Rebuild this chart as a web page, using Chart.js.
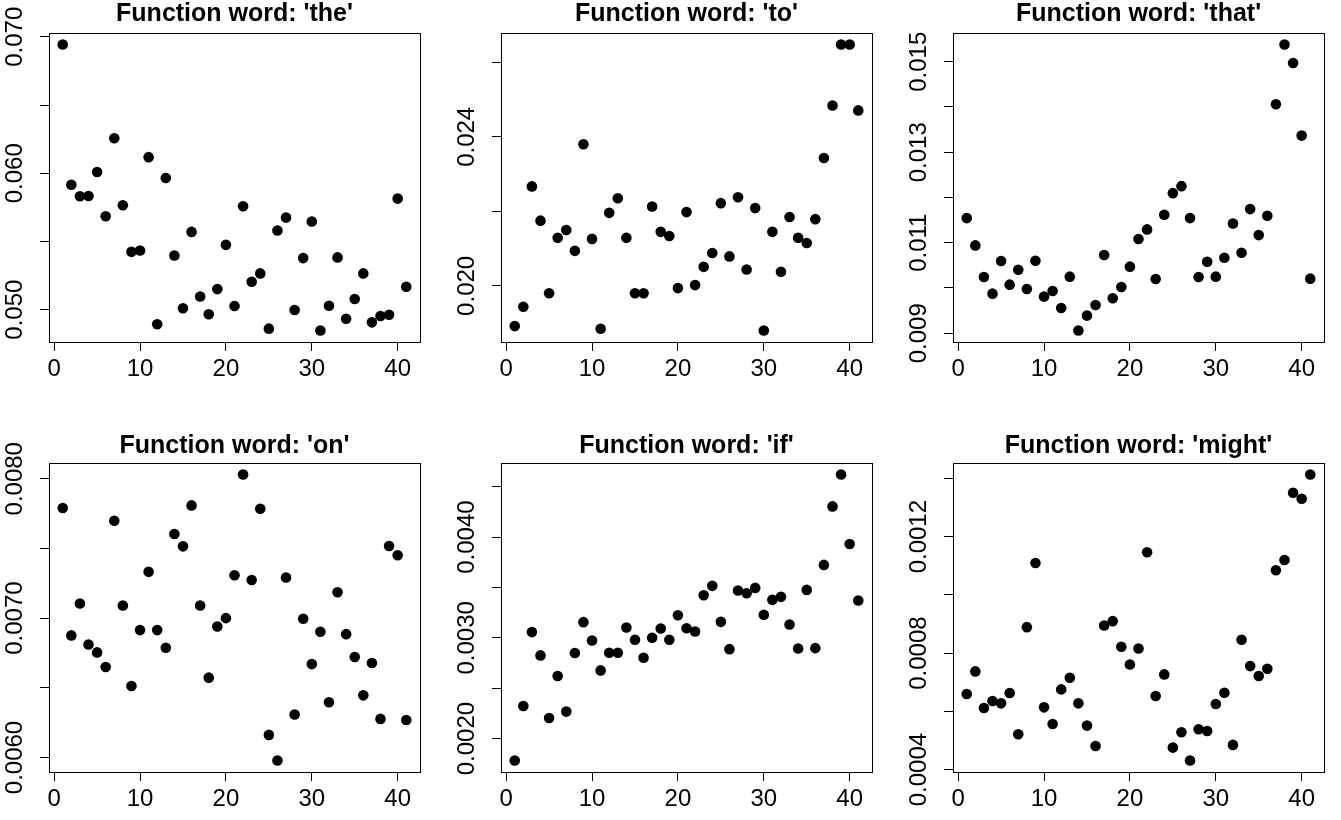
<!DOCTYPE html>
<html lang="en">
<head>
<meta charset="UTF-8">
<title>Function words</title>
<script src="https://cdn.jsdelivr.net/npm/chart.js"></script>
<style>
  body { margin: 0; width: 1341px; height: 820px; overflow: hidden; background: #fff; position: relative; }
  canvas { position: absolute; }
</style>
</head>
<body>
<script>
// text index (1..41)
const idx = [1, 2, 3, 4, 5, 6, 7, 8, 9, 10, 11, 12, 13, 14, 15, 16, 17, 18, 19, 20,
  21, 22, 23, 24, 25, 26, 27, 28, 29, 30, 31, 32, 33, 34, 35, 36, 37, 38, 39, 40, 41];
const xTicks = [0, 10, 20, 30, 40];

const theVals = [0.06944, 0.05916, 0.05831, 0.05833, 0.06009, 0.05685, 0.06257, 0.05765, 0.05424, 0.05434,
  0.06118, 0.04893, 0.05965, 0.05397, 0.05010, 0.05570, 0.05097, 0.04966, 0.05151, 0.05475,
  0.05027, 0.05758, 0.05205, 0.05266, 0.04861, 0.05580, 0.05675, 0.04998, 0.05378, 0.05646,
  0.04847, 0.05029, 0.05383, 0.04934, 0.05078, 0.05266, 0.04907, 0.04954, 0.04963, 0.05814, 0.05168];
const toVals = [0.01892, 0.01944, 0.02267, 0.02175, 0.01980, 0.02129, 0.02150, 0.02094, 0.02380, 0.02126,
  0.01885, 0.02196, 0.02235, 0.02129, 0.01980, 0.01980, 0.02213, 0.02145, 0.02134, 0.01994,
  0.02198, 0.02002, 0.02051, 0.02088, 0.02222, 0.02079, 0.02238, 0.02044, 0.02209, 0.01880,
  0.02145, 0.02038, 0.02185, 0.02129, 0.02115, 0.02179, 0.02343, 0.02484, 0.02648, 0.02648, 0.02471];
const thatVals = [0.011544, 0.010941, 0.010243, 0.009875, 0.010596, 0.010074, 0.010404, 0.009978, 0.010603, 0.009809,
  0.009934, 0.009559, 0.010250, 0.009059, 0.009390, 0.009625, 0.010728, 0.009772, 0.010022, 0.010471,
  0.011081, 0.011294, 0.010199, 0.011618, 0.012096, 0.012250, 0.011544, 0.010243, 0.010581, 0.010250,
  0.010669, 0.011426, 0.010779, 0.011743, 0.011169, 0.011596, 0.014059, 0.015382, 0.014971, 0.013368, 0.010206];
const onVals = [0.007790, 0.006876, 0.007105, 0.006811, 0.006754, 0.006649, 0.007699, 0.007091, 0.006513, 0.006914,
  0.007332, 0.006914, 0.006787, 0.007604, 0.007515, 0.007809, 0.007091, 0.006573, 0.006940, 0.007000,
  0.007308, 0.008031, 0.007274, 0.007785, 0.006162, 0.005978, 0.007291, 0.006308, 0.006995, 0.006670,
  0.006902, 0.006396, 0.007186, 0.006885, 0.006721, 0.006446, 0.006678, 0.006277, 0.007518, 0.007451, 0.006269];
const ifVals = [0.001782, 0.002324, 0.003057, 0.002826, 0.002205, 0.002621, 0.002268, 0.002849, 0.003156, 0.002974,
  0.002677, 0.002852, 0.002852, 0.003103, 0.002981, 0.002803, 0.003001, 0.003093, 0.002981, 0.003225,
  0.003096, 0.003063, 0.003423, 0.003516, 0.003159, 0.002888, 0.003470, 0.003443, 0.003496, 0.003229,
  0.003377, 0.003407, 0.003133, 0.002895, 0.003476, 0.002898, 0.003724, 0.004305, 0.004622, 0.003932, 0.003371];
const mightVals = [0.0006594, 0.0007371, 0.0006114, 0.0006354, 0.0006274, 0.0006629, 0.0005211, 0.0008891, 0.0011097, 0.0006137,
  0.0005566, 0.0006754, 0.0007154, 0.0006274, 0.0005509, 0.0004811, 0.0008949, 0.0009097, 0.0008217, 0.0007611,
  0.0008160, 0.0011463, 0.0006526, 0.0007269, 0.0004754, 0.0005280, 0.0004309, 0.0005383, 0.0005326, 0.0006251,
  0.0006640, 0.0004846, 0.0008457, 0.0007554, 0.0007211, 0.0007463, 0.0010846, 0.0011200, 0.0013509, 0.0013303, 0.0014137];

// y ticks and the labels R kept (empty = tick without label)
const theTicks = [0.050, 0.055, 0.060, 0.065, 0.070];
const theLabels = ['0.050', '', '0.060', '', '0.070'];
const toTicks = [0.020, 0.022, 0.024, 0.026];
const toLabels = ['0.020', '', '0.024', ''];
const thatTicks = [0.009, 0.010, 0.011, 0.012, 0.013, 0.014, 0.015];
const thatLabels = ['0.009', '', '0.011', '', '0.013', '', '0.015'];
const onTicks = [0.0060, 0.0065, 0.0070, 0.0075, 0.0080];
const onLabels = ['0.0060', '', '0.0070', '', '0.0080'];
const ifTicks = [0.0020, 0.0025, 0.0030, 0.0035, 0.0040, 0.0045];
const ifLabels = ['0.0020', '', '0.0030', '', '0.0040', ''];
const mightTicks = [0.0004, 0.0006, 0.0008, 0.0010, 0.0012, 0.0014];
const mightLabels = ['0.0004', '', '0.0008', '', '0.0012', ''];

const words = ['the', 'to', 'that', 'on', 'if', 'might'];
const panels = [
  { word: words[0], values: theVals, ticks: theTicks, labels: theLabels },
  { word: words[1], values: toVals, ticks: toTicks, labels: toLabels },
  { word: words[2], values: thatVals, ticks: thatTicks, labels: thatLabels },
  { word: words[3], values: onVals, ticks: onTicks, labels: onLabels },
  { word: words[4], values: ifVals, ticks: ifTicks, labels: ifLabels },
  { word: words[5], values: mightVals, ticks: mightTicks, labels: mightLabels }
];

const FONT = '"Liberation Sans", Arial, Helvetica, sans-serif';
const plotLefts = [49, 501, 953];
const rowTops = [0, 430];
const titleTops = [2, 3.5];
const measure = document.createElement('canvas').getContext('2d');
measure.font = '24px ' + FONT;

// R draws a full box round the plot region
const boxPlugin = {
  id: 'box',
  afterDraw(chart) {
    const a = chart.chartArea, ctx = chart.ctx;
    ctx.save();
    ctx.strokeStyle = '#000';
    ctx.lineWidth = 1;
    ctx.strokeRect(Math.round(a.left) + 0.5, Math.round(a.top) + 0.5,
      Math.round(a.right - a.left), Math.round(a.bottom - a.top));
    ctx.restore();
  }
};

panels.forEach((p, i) => {
  const col = i % 3, row = Math.floor(i / 3);
  const cv = document.createElement('canvas');
  cv.width = 437;
  cv.height = 390;
  cv.style.left = (plotLefts[col] - 49) + 'px';
  cv.style.top = rowTops[row] + 'px';
  document.body.appendChild(cv);

  const lo = Math.min(...p.values), hi = Math.max(...p.values);
  const ext = (hi - lo) * 0.04;
  const widest = Math.max(...p.labels.map(l => measure.measureText(l).width));

  new Chart(cv, {
    type: 'scatter',
    data: {
      datasets: [{
        data: idx.map((x, k) => ({ x: x, y: p.values[k] })),
        backgroundColor: '#000',
        borderColor: '#000',
        borderWidth: 0,
        pointRadius: 5.3,
        pointHoverRadius: 5.3
      }]
    },
    options: {
      responsive: false,
      animation: false,
      devicePixelRatio: 1,
      events: [],
      layout: { padding: { left: 0, right: 17, top: 0, bottom: 0 } },
      plugins: {
        legend: { display: false },
        tooltip: { enabled: false },
        title: {
          display: true,
          text: "Function word: '" + p.word + "'",
          color: '#000',
          fullSize: false,
          font: { family: FONT, size: 25, weight: 'bold', lineHeight: 1 },
          padding: { top: titleTops[row], bottom: 8 - titleTops[row] }
        }
      },
      scales: {
        x: {
          type: 'linear',
          position: 'bottom',
          min: -0.6,
          max: 42.6,
          afterBuildTicks: s => { s.ticks = xTicks.map(v => ({ value: v })); },
          afterFit: s => { s.height = 48; },
          ticks: {
            autoSkip: false, maxRotation: 0, color: '#000', padding: 3.5,
            font: { family: FONT, size: 24 },
            callback: v => String(v)
          },
          grid: { drawOnChartArea: false, drawTicks: true, tickLength: 9, color: '#000', lineWidth: 1 },
          border: { display: true, color: '#000', width: 1 }
        },
        y: {
          type: 'linear',
          position: 'left',
          min: lo - ext,
          max: hi + ext,
          afterBuildTicks: s => { s.ticks = p.ticks.map(v => ({ value: v })); },
          afterFit: s => { s.width = 49; },
          ticks: {
            autoSkip: false, minRotation: 90, maxRotation: 90, crossAlign: 'center',
            padding: 24.5 - widest / 2, color: '#000',
            font: { family: FONT, size: 24 },
            callback: (v, k) => p.labels[k]
          },
          grid: { drawOnChartArea: false, drawTicks: true, tickLength: 9, color: '#000', lineWidth: 1 },
          border: { display: true, color: '#000', width: 1 }
        }
      }
    },
    plugins: [boxPlugin]
  });
});
</script>
</body>
</html>
